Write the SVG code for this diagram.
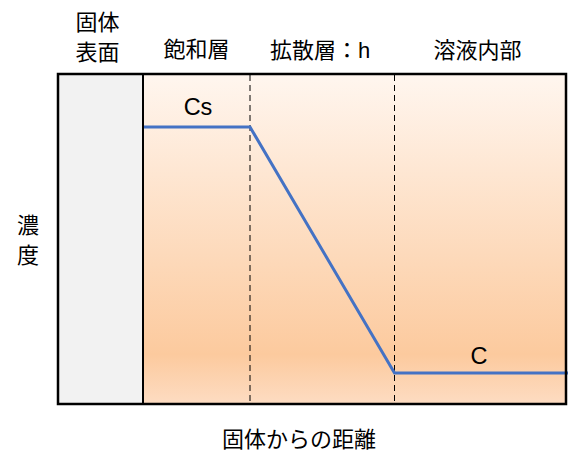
<svg xmlns="http://www.w3.org/2000/svg" width="581" height="469" viewBox="0 0 581 469">
<style>
text{font-family:"Liberation Sans","Noto Sans CJK JP",sans-serif;font-size:22px;fill:#000}
.c{text-anchor:middle}
.lat{font-size:23.5px}
.dash{stroke:#000;stroke-width:1;stroke-dasharray:6,4;fill:none}
.blue{stroke:#4472C4;stroke-width:3;fill:none}
</style>
<defs>
<linearGradient id="g" x1="0" y1="0" x2="0" y2="1">
<stop offset="0" stop-color="#fff6ef"/>
<stop offset="0.85" stop-color="#fcca9e"/>
<stop offset="1" stop-color="#fddcc2"/>
</linearGradient>
</defs>
<g id="background">
<rect x="143" y="74" width="423" height="330" fill="url(#g)"/>
<rect x="58" y="74" width="85" height="330" fill="#f2f2f2"/>
</g>
<g id="connectors">
<line class="dash" x1="250" y1="75" x2="250" y2="403"/>
<line class="dash" x1="394.5" y1="75" x2="394.5" y2="403"/>
<polyline class="blue" points="143,127 250,127 394.5,373 568,373"/>
</g>
<g id="frame">
<rect x="58" y="74" width="508" height="330" fill="none" stroke="#000" stroke-width="2.5"/>
<line x1="143" y1="74" x2="143" y2="404" stroke="#000" stroke-width="2"/>
</g>
<g id="labels">
<text x="97.5" y="30" class="c">固体</text>
<text x="97.5" y="60" class="c">表面</text>
<text x="196.5" y="57" class="c">飽和層</text>
<text x="320" y="58" class="c">拡散層：h</text>
<text x="477.5" y="58" class="c">溶液内部</text>
<text x="198" y="115" class="c lat">Cs</text>
<text x="479" y="364" class="c lat">C</text>
<text x="28" y="233" class="c">濃</text>
<text x="28" y="263" class="c">度</text>
<text x="299" y="447" class="c">固体からの距離</text>
</g>
</svg>
